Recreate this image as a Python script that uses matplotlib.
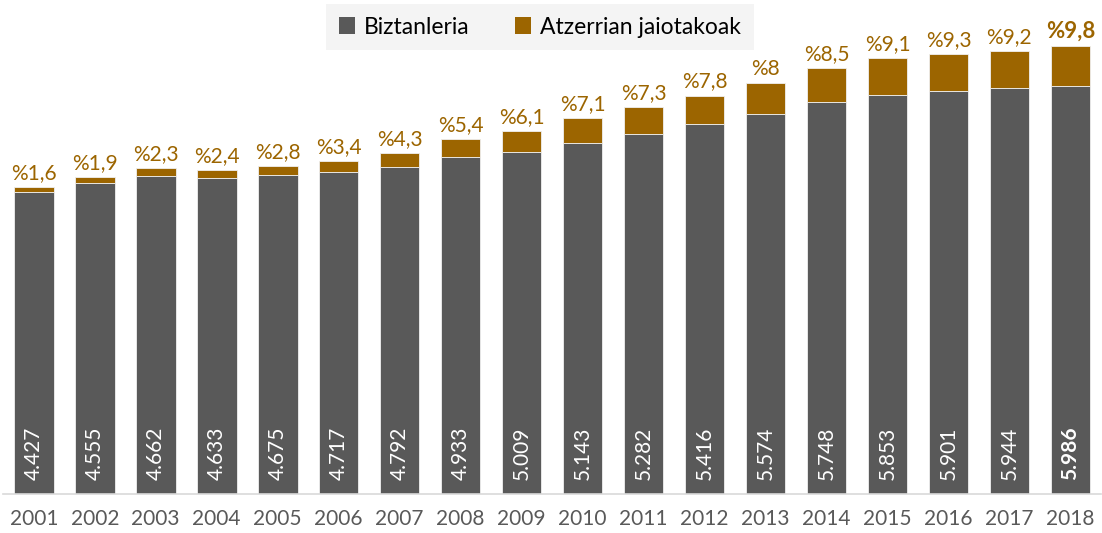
import matplotlib
matplotlib.use("Agg")
import matplotlib.pyplot as plt
from matplotlib.patches import Patch

years = ["2001", "2002", "2003", "2004", "2005", "2006", "2007", "2008", "2009",
         "2010", "2011", "2012", "2013", "2014", "2015", "2016", "2017", "2018"]
population = [4427, 4555, 4662, 4633, 4675, 4717, 4792, 4933, 5009,
              5143, 5282, 5416, 5574, 5748, 5853, 5901, 5944, 5986]
foreign_pct = [1.6, 1.9, 2.3, 2.4, 2.8, 3.4, 4.3, 5.4, 6.1,
               7.1, 7.3, 7.8, 8, 8.5, 9.1, 9.3, 9.2, 9.8]
series_names = ["Biztanleria", "Atzerrian jaiotakoak"]

GREY = "#595959"
BROWN = "#9C6500"
FONT = "Lato"

foreign = [p * v / 100 for p, v in zip(foreign_pct, population)]

fig = plt.figure(figsize=(11.02, 5.33), dpi=100)
ax = fig.add_axes([0.003, 1 - 493.5 / 533, 0.996, 476 / 533])

x = list(range(len(years)))
ax.bar(x, population, width=0.65, color=GREY, edgecolor="#f0f0f0", linewidth=0.6)
ax.bar(x, foreign, bottom=population, width=0.65, color=BROWN, edgecolor="#f0f0f0", linewidth=0.6)

ax.set_xlim(-0.5, len(years) - 0.5)
ax.set_ylim(0, 476 / 0.06815)

def fmt_num(v):
    return f"{v:,}".replace(",", ".")

def fmt_pct(p):
    s = f"{p:g}".replace(".", ",")
    return "%" + s

last = len(years) - 1
for i in x:
    bold = i == last
    ax.annotate(fmt_pct(foreign_pct[i]), (i, population[i] + foreign[i]),
                xytext=(0, 3), textcoords="offset points", ha="center", va="bottom",
                color=BROWN, fontsize=16 if bold else 15, family=FONT,
                fontweight="bold" if bold else "normal")
    ax.annotate(fmt_num(population[i]), (i, 0),
                xytext=(0, 10), textcoords="offset points", ha="center", va="bottom",
                rotation=90, color="white", fontsize=15, family=FONT,
                fontweight="bold" if bold else "normal")

ax.set_xticks(x)
ax.set_xticklabels(years, family=FONT, fontsize=15, color=GREY)
ax.tick_params(axis="x", length=0, pad=11)
ax.set_yticks([])
for s in ["top", "right", "left"]:
    ax.spines[s].set_visible(False)
ax.spines["bottom"].set_color("#D9D9D9")
ax.spines["bottom"].set_linewidth(1.2)

handles = [Patch(facecolor=GREY, edgecolor="none"), Patch(facecolor=BROWN, edgecolor="none")]
leg = fig.legend(handles, series_names, loc="center", bbox_to_anchor=(540 / 1102, 1 - 27 / 533),
                 ncol=2, frameon=True, fancybox=False, facecolor="#F2F2F2", edgecolor="#F2F2F2",
                 prop={"family": FONT, "size": 16.5}, handlelength=0.7, handleheight=0.7,
                 handletextpad=0.4, columnspacing=2.0, borderpad=0.55, borderaxespad=0)
leg.get_frame().set_linewidth(0)

fig.savefig("out.png", dpi=100)
